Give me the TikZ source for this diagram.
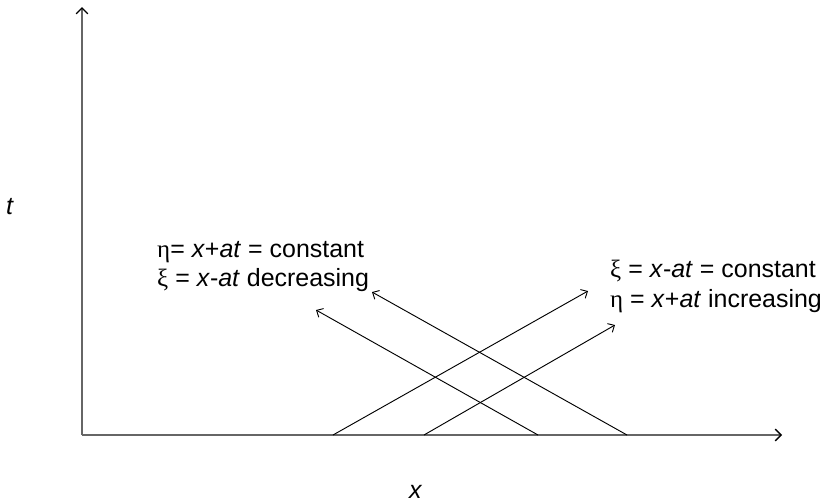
\documentclass[tikz,border=0pt]{standalone}
\usepackage{fontspec}
\setmainfont{Liberation Sans}
\newfontfamily\grk{Liberation Serif}
\usetikzlibrary{arrows.meta}

\begin{document}
\begin{tikzpicture}[x=0.03cm,y=-0.03cm,
  axis/.style={draw=black!60,line width=1.2pt,-{Straight Barb[length=5pt,width=10pt,color=black,line width=1.2pt]}},
  charline/.style={line width=0.8pt,-{Straight Barb[length=4.5pt,width=8.5pt]}},
  lbl/.style={anchor=base west,inner sep=0pt,font=\fontsize{21.3}{25}\selectfont}]
\useasboundingbox (0,0) rectangle (829,502);
% axes
\coordinate (O) at (82,435);
\coordinate (tend) at (82,7);
\coordinate (xend) at (782,435);
\draw[axis] (O) -- (tend);
\draw[axis] (O) -- (xend);
\node[lbl] (tlab) at (6,214) {\textit{t}};
\node[lbl] (xlab) at (409,498) {\textit{x}};
% characteristics
\coordinate (a1) at (333,435); \coordinate (b1) at (588,291);
\coordinate (a2) at (424,435); \coordinate (b2) at (615,325);
\coordinate (a3) at (538,435); \coordinate (b3) at (316,310);
\coordinate (a4) at (627,435); \coordinate (b4) at (372,292);
\draw[charline] (a1) -- (b1);
\draw[charline] (a2) -- (b2);
\draw[charline] (a3) -- (b3);
\draw[charline] (a4) -- (b4);
% labels
\node[lbl] (etaconst) at (157,257) {{\grk η}= \textit{x}+\textit{at} = constant};
\node[lbl] (xidec) at (157,286) {{\grk ξ} = \textit{x}-\textit{at} decreasing};
\node[lbl] (xiconst) at (610,277) {{\grk ξ} = \textit{x}-\textit{at} = constant};
\node[lbl] (etainc) at (610,307) {{\grk η} = \textit{x}+\textit{at} increasing};
\end{tikzpicture}
\end{document}
